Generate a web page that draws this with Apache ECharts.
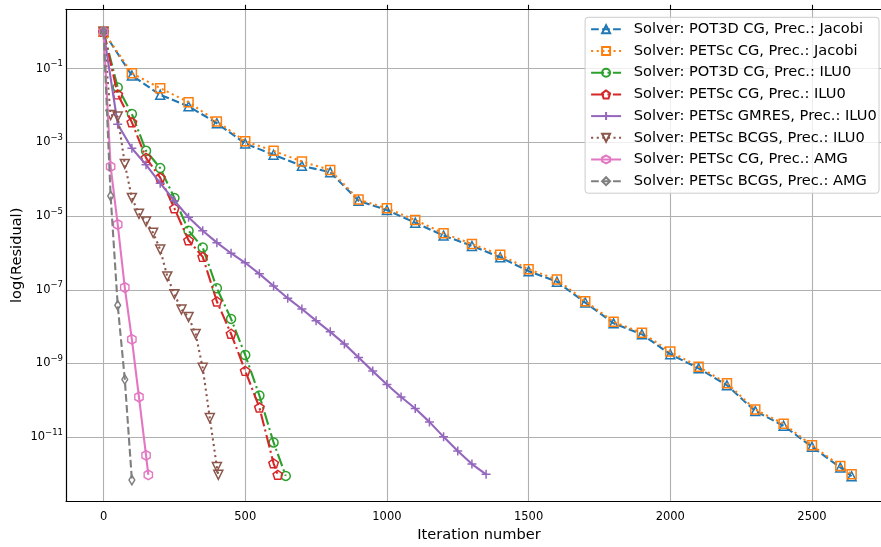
<!DOCTYPE html>
<html>
<head>
<meta charset="utf-8">
<script src="https://cdn.jsdelivr.net/npm/echarts@6/dist/echarts.min.js"></script>
<style>
html,body{margin:0;padding:0;background:#fff;}
#chart{width:881px;height:547px;}
</style>
</head>
<body>
<div id="chart"></div>
<script>
// ---- data (iteration numbers and residuals) ----
const seriesNames = [
  'Solver: POT3D CG, Prec.: Jacobi',
  'Solver: PETSc CG, Prec.: Jacobi',
  'Solver: POT3D CG, Prec.: ILU0',
  'Solver: PETSc CG, Prec.: ILU0',
  'Solver: PETSc GMRES, Prec.: ILU0',
  'Solver: PETSc BCGS, Prec.: ILU0',
  'Solver: PETSc CG, Prec.: AMG',
  'Solver: PETSc BCGS, Prec.: AMG'
];

const iterJacobi = [0,100,200,300,400,500,600,700,800,900,1000,1100,1200,1300,1400,1500,1600,1700,1800,1900,2000,2100,2200,2300,2400,2500,2600,2640];
const resPot3dJacobi = [1.0,6.5e-2,1.95e-2,9.5e-3,3.3e-3,9.3e-4,4.6e-4,2.3e-4,1.55e-4,2.6e-5,1.45e-5,6.6e-6,2.95e-6,1.55e-6,7.6e-7,3.2e-7,1.66e-7,4.5e-8,1.23e-8,6.2e-9,1.78e-9,7.4e-10,2.57e-10,5.1e-11,2.04e-11,5.5e-12,1.51e-12,8.7e-13];
const resPetscJacobi = [1.0,7.5e-2,2.95e-2,1.23e-2,3.7e-3,1.07e-3,5.9e-4,3.0e-4,1.78e-4,2.8e-5,1.62e-5,7.8e-6,3.4e-6,1.74e-6,8.9e-7,3.6e-7,1.9e-7,4.9e-8,1.35e-8,6.8e-9,2.1e-9,8.1e-10,2.9e-10,5.6e-11,2.3e-11,6.0e-12,1.66e-12,9.8e-13];

const iterPot3dIlu = [0,50,100,150,200,250,300,350,400,450,500,550,600,643];
const resPot3dIlu = [1.0,3.1e-2,5.9e-3,5.9e-4,2.0e-4,3.1e-5,4.0e-6,1.4e-6,1.1e-7,1.62e-8,1.7e-9,1.35e-10,7.2e-12,8.9e-13];

const iterPetscIlu = [0,50,100,150,200,250,300,350,400,450,500,550,600,615];
const resPetscIlu = [1.0,2.0e-2,3.5e-3,3.8e-4,1.1e-4,1.62e-5,2.2e-6,7.8e-7,4.8e-8,6.4e-9,6.3e-10,6.4e-11,1.95e-12,9.5e-13];

const iterGmres = [0,50,100,150,200,250,300,350,400,450,500,550,600,650,700,750,800,850,900,950,1000,1050,1100,1150,1200,1250,1300,1350];
const resGmres = [1.0,3.1e-3,6.9e-4,2.45e-4,7.8e-5,2.6e-5,9.3e-6,4.0e-6,1.9e-6,9.8e-7,5.4e-7,2.7e-7,1.26e-7,5.9e-8,3.0e-8,1.45e-8,7.2e-9,3.4e-9,1.45e-9,6.2e-10,2.7e-10,1.23e-10,6.0e-11,2.6e-11,1.02e-11,4.2e-12,1.86e-12,9.8e-13];

const iterBcgsIlu = [0,25,50,75,100,125,150,175,200,225,250,275,300,325,350,375,400,405];
const resBcgsIlu = [1.0,5.5e-3,5.0e-3,2.6e-4,3.1e-5,1.15e-5,7.1e-6,3.5e-6,1.23e-6,2.3e-7,7.6e-8,2.9e-8,1.82e-8,6.3e-9,7.6e-10,3.3e-11,1.55e-12,9.5e-13];

const iterCgAmg = [0,25,50,75,100,125,150,158];
const resCgAmg = [1.0,2.2e-4,5.9e-6,1.15e-7,4.5e-9,1.23e-10,3.2e-12,9.5e-13];

const iterBcgsAmg = [0,25,50,75,100];
const resBcgsAmg = [1.0,3.5e-5,3.8e-8,3.7e-10,6.9e-13];

const xTicks = [0,500,1000,1500,2000,2500];
const yTickExponents = [-11,-9,-7,-5,-3,-1];

// ---- styling ----
const FONT = 'DejaVu Sans';
const colors = ['#1f77b4','#ff7f0e','#2ca02c','#d62728','#9467bd','#8c564b','#e377c2','#7f7f7f'];
const dashed = [7.7,3.3], dotted = [2.1,3.5], dashdot = [13,3.4,2.1,3.4];
const SYM = {
  tri: 'triangle',
  sq: 'rect',
  circ: 'circle',
  pent: 'path://M95,0 L0,69 L36,181 L154,181 L190,69 Z',
  plus: 'path://M0,50 L100,50 M50,0 L50,100',
  tdown: 'path://M0,0 L100,0 L50,100 Z',
  hex: 'path://M87,0 L0,50 L0,150 L87,200 L173,150 L173,50 Z',
  thind: 'path://M30,0 L60,50 L30,100 L0,50 Z'
};

function mk(idx, iters, res, dash, symbol, size) {
  const c = colors[idx];
  return {
    name: seriesNames[idx],
    type: 'line',
    data: iters.map((x, i) => [x, Math.log10(res[i])]),
    symbol: symbol,
    symbolSize: size,
    showAllSymbol: true,
    lineStyle: { color: c, width: 2.1, type: dash, cap: 'butt' },
    itemStyle: { color: 'rgba(255,255,255,0)', borderColor: c, borderWidth: 1.5 },
    emphasis: { disabled: true },
    animation: false,
    clip: false,
    z: 2 + idx * 0.01
  };
}

const series = [
  mk(0, iterJacobi, resPot3dJacobi, dashed, SYM.tri, 9),
  mk(1, iterJacobi, resPetscJacobi, dotted, SYM.sq, 9),
  mk(2, iterPot3dIlu, resPot3dIlu, dashdot, SYM.circ, 9),
  mk(3, iterPetscIlu, resPetscIlu, dashdot, SYM.pent, [9.5, 9]),
  mk(4, iterGmres, resGmres, 'solid', SYM.plus, 9),
  mk(5, iterBcgsIlu, resBcgsIlu, dotted, SYM.tdown, 9),
  mk(6, iterCgAmg, resCgAmg, 'solid', SYM.hex, [8.3, 9.6]),
  mk(7, iterBcgsAmg, resBcgsAmg, dashed, SYM.thind, [5.8, 9.6])
];

const chart = echarts.init(document.getElementById('chart'), null, { renderer: 'canvas' });
chart.setOption({
  animation: false,
  backgroundColor: '#fff',
  textStyle: { fontFamily: FONT },
  grid: { left: 66, top: 9.3, right: -11, bottom: 45.7, containLabel: false, outerBoundsMode: 'none' },
  legend: {
    data: seriesNames,
    orient: 'vertical',
    right: 2,
    top: 17.3,
    padding: [4, 2.3, 4, 5],
    itemWidth: 30,
    itemHeight: 10,
    itemGap: 5.7,
    backgroundColor: 'rgba(255,255,255,0.8)',
    borderColor: '#cccccc',
    borderWidth: 1,
    borderRadius: 3,
    textStyle: { fontFamily: FONT, fontSize: 14.6, color: '#000', lineHeight: 16, padding: [0, 0, 0, 7.7] },
    selectedMode: false,
    z: 10
  },
  xAxis: [{
    type: 'value',
    min: -132.5, max: 2782.5,
    name: 'Iteration number',
    nameLocation: 'middle',
    nameGap: 26,
    nameMoveOverlap: false,
    nameTextStyle: { fontFamily: FONT, fontSize: 14.6, color: '#000' },
    axisLine: { show: true, onZero: false, lineStyle: { color: '#000', width: 1.2 } },
    axisTick: { show: false, customValues: xTicks },
    axisLabel: { customValues: xTicks, fontFamily: FONT, fontSize: 11.5, color: '#000', margin: 10,
      formatter: function (v) { return String(Math.round(v)); } },
    splitLine: { show: true, lineStyle: { color: '#b0b0b0', width: 1.1 } }
  }, {
    type: 'value',
    position: 'top',
    min: -132.5, max: 2782.5,
    axisLine: { show: true, onZero: false, lineStyle: { color: '#000', width: 1.2 } },
    axisTick: { show: true, inside: false, length: 4.5, customValues: xTicks, lineStyle: { color: '#000', width: 1.1 } },
    axisLabel: { show: false, customValues: xTicks },
    splitLine: { show: false }
  }],
  yAxis: {
    type: 'value',
    min: -12.74, max: 0.61,
    name: 'log(Residual)',
    nameLocation: 'middle',
    nameRotate: 90,
    nameGap: 41,
    nameMoveOverlap: false,
    nameTextStyle: { fontFamily: FONT, fontSize: 14.6, color: '#000' },
    axisLine: { show: true, onZero: false, lineStyle: { color: '#000', width: 1.2 } },
    axisTick: { show: false, customValues: yTickExponents },
    axisLabel: {
      customValues: yTickExponents,
      margin: 3,
      formatter: function (v) {
        const n = Math.round(v);
        return '{b|10}{s|' + (n < 0 ? '\u2212' : '') + Math.abs(n) + '}';
      },
      rich: {
        b: { fontFamily: FONT, fontSize: 11.5, color: '#000', lineHeight: 18 },
        s: { fontFamily: FONT, fontSize: 8.5, color: '#000', lineHeight: 9, verticalAlign: 'top' }
      }
    },
    splitLine: { show: true, lineStyle: { color: '#b0b0b0', width: 1.1 } }
  },
  series: series
});
</script>
</body>
</html>
